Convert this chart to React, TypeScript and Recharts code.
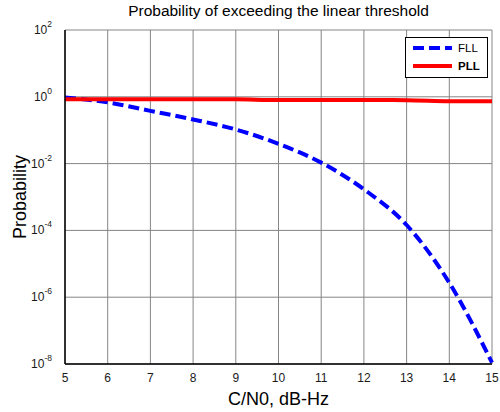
import React from "react";
import { LineChart, Line, XAxis, YAxis, CartesianGrid, Legend } from "recharts";

const CN0 = [5, 6, 7, 8, 9, 10, 11, 12, 13, 14, 15];
const FLL = [0.95, 0.68, 0.38, 0.21, 0.105, 0.039, 0.0107, 0.0017, 1.45e-4, 2.7e-6, 1.1e-8];
const PLL = [0.85, 0.85, 0.85, 0.85, 0.84, 0.8, 0.8, 0.8, 0.79, 0.74, 0.73];
const X_TICKS = [5, 6, 7, 8, 9, 10, 11, 12, 13, 14, 15];
const Y_TICKS = [1e-8, 1e-6, 1e-4, 1e-2, 1, 1e2];
const SERIES = ["FLL", "PLL"];

const FONT = "'Liberation Sans', Arial, sans-serif";

const rows = CN0.map((x, i) => ({ x, FLL: FLL[i], PLL: PLL[i] }));

const styles: Record<string, { color: string; dash?: string; bold?: boolean }> = {
  FLL: { color: "#0000ff", dash: "11 5" },
  PLL: { color: "#ff0000", bold: true },
};

// "10" with the decade exponent raised as a superscript
function PowerTick(props: any) {
  const { x, y, payload } = props;
  const exp = Math.round(Math.log10(payload.value));
  return (
    <text x={x - 5} y={y + 4} textAnchor="end" fontFamily={FONT} fontSize={12} fill="#1a1a1a">
      10
      <tspan dy={-7} fontSize={8.5}>
        {exp}
      </tspan>
    </text>
  );
}

function LegendBox() {
  return (
    <svg width={83} height={41} style={{ display: "block" }}>
      <rect x={0.5} y={0.5} width={82} height={40} fill="#fff" stroke="#000" />
      {SERIES.map((name, i) => {
        const s = styles[name];
        const cy = 11 + i * 18;
        return (
          <g key={name}>
            <line x1={8} x2={47} y1={cy} y2={cy} stroke={s.color} strokeWidth={4} strokeDasharray={s.dash} />
            <text x={53} y={cy + 4} fontFamily={FONT} fontSize={11.5} fontWeight={s.bold ? "bold" : "normal"} fill="#000">
              {name}
            </text>
          </g>
        );
      })}
    </svg>
  );
}

export default function App() {
  return (
    <div style={{ position: "absolute", left: 0, top: 0, width: 500, height: 412, background: "#fff" }}>
      <div style={{ position: "absolute", left: 65, width: 427, top: 2, textAlign: "center", fontFamily: FONT, fontSize: 15.5, color: "#000" }}>
        Probability of exceeding the linear threshold
      </div>
      <LineChart width={500} height={412} data={rows} margin={{ top: 30, right: 8, bottom: 18, left: 25 }}>
        <CartesianGrid stroke="#858585" strokeWidth={1} />
        <XAxis
          dataKey="x"
          type="number"
          domain={[5, 15]}
          ticks={X_TICKS}
          height={30}
          tickLine={false}
          axisLine={{ stroke: "#000", strokeWidth: 1.5 }}
          tick={{ fontFamily: FONT, fontSize: 12, fill: "#1a1a1a" }}
          tickMargin={3}
          label={{ value: "C/N0, dB-Hz", position: "insideBottom", offset: -11, fontFamily: FONT, fontSize: 18, fill: "#000" }}
        />
        <XAxis xAxisId="top" dataKey="x" type="number" domain={[5, 15]} orientation="top" height={0} tick={false} tickLine={false} axisLine={{ stroke: "#000" }} />
        <YAxis
          type="number"
          scale="log"
          domain={[1e-8, 1e2]}
          ticks={Y_TICKS}
          allowDataOverflow
          width={40}
          tickLine={false}
          axisLine={{ stroke: "#000", strokeWidth: 1.5 }}
          tick={<PowerTick />}
          label={{ value: "Probability", angle: -90, position: "center", dx: -25, fontFamily: FONT, fontSize: 18, fill: "#000" }}
        />
        <YAxis yAxisId="right" orientation="right" width={0} type="number" scale="log" domain={[1e-8, 1e2]} tick={false} tickLine={false} axisLine={{ stroke: "#000" }} />
        <Line dataKey="FLL" type="monotone" stroke={styles.FLL.color} strokeWidth={4} strokeDasharray={styles.FLL.dash} dot={false} isAnimationActive={false} />
        <Line dataKey="PLL" type="monotone" stroke={styles.PLL.color} strokeWidth={4} dot={false} isAnimationActive={false} />
        <Legend
          layout="vertical"
          align="center"
          verticalAlign="middle"
          content={<LegendBox />}
          wrapperStyle={{ position: "absolute", left: 405, top: 37, width: 83 }}
        />
      </LineChart>
    </div>
  );
}
